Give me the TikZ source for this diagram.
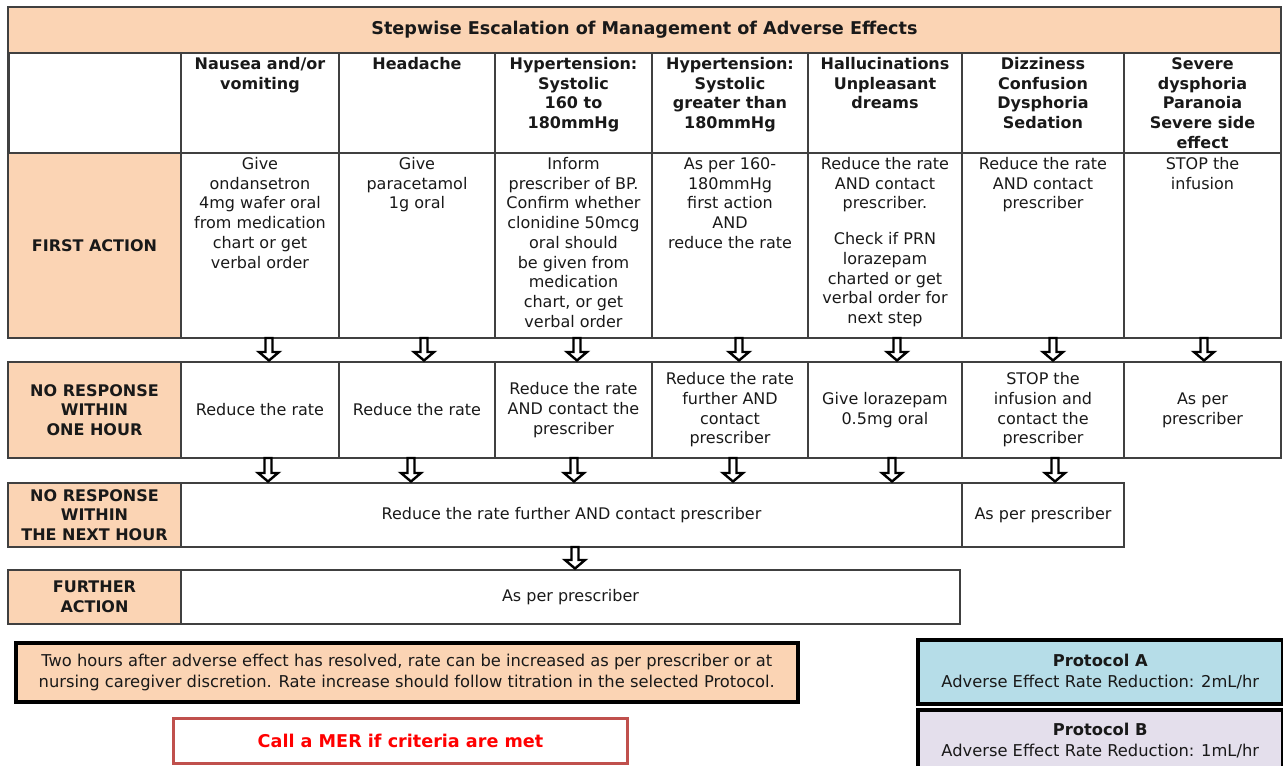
\documentclass[tikz,border=0pt]{standalone}
\usepackage{fontspec}
\setmainfont{DejaVu Sans}
\usepackage{tikz}
\usetikzlibrary{calc,positioning}
\definecolor{peach}{HTML}{FBD4B4}
\definecolor{protblue}{HTML}{B6DDE8}
\definecolor{protlilac}{HTML}{E4DFEC}
\definecolor{merred}{HTML}{C0504D}
\newcommand{\bodyfont}{\fontsize{16}{19.7}\selectfont}
\newcommand{\smallbody}{\fontsize{16.3}{21}\selectfont}
\newcommand{\bigbold}{\fontsize{17.6}{21}\selectfont\bfseries}
\newcommand{\topbox}[3]{\parbox[t][#2][t]{#1}{\centering\rule{0pt}{16.5pt}#3}}
\newcommand{\midbox}[3]{\parbox[c][#2][c]{#1}{\centering #3}}
\newcommand{\blockdown}[3]{%
\path ($(#1.south)+(#3,0)$) coordinate (bt) (bt |- #2.north) coordinate (bb);
\draw[blockarrow] ($(bt)+(-3.5,0)$) -- ($(bb)+(-3.5,-10)$) -- ($(bb)+(-10,-10)$)
  -- ($(bb)+(0,-1.5)$) -- ($(bb)+(10,-10)$) -- ($(bb)+(3.5,-10)$) -- ($(bt)+(3.5,0)$) -- cycle;}
\tikzstyle{cell} = [draw=black!75, line width=1.3pt, anchor=north west, inner sep=0pt, outer sep=0pt, font=\bodyfont, text=black!90]
\tikzstyle{rowhead} = [cell, fill=peach, font=\bodyfont\bfseries]
\tikzstyle{colhead} = [cell, font=\bodyfont\bfseries]
\tikzstyle{blockarrow} = [draw=black, line width=2.4pt, fill=white]
\tikzstyle{thickbox} = [draw=black, line width=3.5pt, anchor=north west, inner sep=0pt, font=\smallbody, text=black!90]

\begin{document}
\begin{tikzpicture}[x=1pt,y=-1pt]
\useasboundingbox (0,0) rectangle (1283,766);

\node[rowhead, font=\bigbold] (title) at (8,7) {\midbox{1273pt}{46pt}{Stepwise Escalation of Management of Adverse Effects}};

% symptoms
\node[colhead] (corner) at (8,53) {\midbox{173pt}{100pt}{}};
\node[colhead] (h1) at (181,53) {\topbox{158pt}{100pt}{Nausea and/or\\ vomiting}};
\node[colhead] (h2) at (339,53) {\topbox{156pt}{100pt}{Headache}};
\node[colhead] (h3) at (495,53) {\topbox{157pt}{100pt}{Hypertension:\\ Systolic\\ 160 to\\ 180mmHg}};
\node[colhead] (h4) at (652,53) {\topbox{156pt}{100pt}{Hypertension:\\ Systolic\\ greater than\\ 180mmHg}};
\node[colhead] (h5) at (808,53) {\topbox{154pt}{100pt}{Hallucinations\\ Unpleasant\\ dreams}};
\node[colhead] (h6) at (962,53) {\topbox{162pt}{100pt}{Dizziness\\ Confusion\\ Dysphoria\\ Sedation}};
\node[colhead] (h7) at (1124,53) {\topbox{157pt}{100pt}{Severe\\ dysphoria\\ Paranoia\\ Severe side\\ effect}};

% first action
\node[rowhead] (rfa) at (8,153) {\midbox{173pt}{185pt}{FIRST ACTION}};
\node[cell] (fa1) at (181,153) {\topbox{158pt}{185pt}{Give\\ ondansetron\\ 4mg wafer oral\\ from medication\\ chart or get\\ verbal order}};
\node[cell] (fa2) at (339,153) {\topbox{156pt}{185pt}{Give\\ paracetamol\\ 1g oral}};
\node[cell] (fa3) at (495,153) {\topbox{157pt}{185pt}{Inform\\ prescriber of BP.\\ Confirm whether\\ clonidine 50mcg\\ oral should\\ be given from\\ medication\\ chart, or get\\ verbal order}};
\node[cell] (fa4) at (652,153) {\topbox{156pt}{185pt}{As per 160-\\ 180mmHg\\ first action\\ AND\\ reduce the rate}};
\node[cell] (fa5) at (808,153) {\topbox{154pt}{185pt}{Reduce the rate\\ AND contact\\ prescriber.\\[16pt] Check if PRN\\ lorazepam\\ charted or get\\ verbal order for\\ next step}};
\node[cell] (fa6) at (962,153) {\topbox{162pt}{185pt}{Reduce the rate\\ AND contact\\ prescriber}};
\node[cell] (fa7) at (1124,153) {\topbox{157pt}{185pt}{STOP the\\ infusion}};

% no response within one hour
\node[rowhead] (rn1) at (8,362) {\midbox{173pt}{96pt}{NO RESPONSE\\ WITHIN\\ ONE HOUR}};
\node[cell] (n1) at (181,362) {\midbox{158pt}{96pt}{Reduce the rate}};
\node[cell] (n2) at (339,362) {\midbox{156pt}{96pt}{Reduce the rate}};
\node[cell] (n3) at (495,362) {\midbox{157pt}{96pt}{Reduce the rate\\ AND contact the\\ prescriber}};
\node[cell] (n4) at (652,362) {\midbox{156pt}{96pt}{Reduce the rate\\ further AND\\ contact\\ prescriber}};
\node[cell] (n5) at (808,362) {\midbox{154pt}{96pt}{Give lorazepam\\ 0.5mg oral}};
\node[cell] (n6) at (962,362) {\midbox{162pt}{96pt}{STOP the\\ infusion and\\ contact the\\ prescriber}};
\node[cell] (n7) at (1124,362) {\midbox{157pt}{96pt}{As per\\ prescriber}};

% no response within the next hour
\node[rowhead] (rn2) at (8,483) {\midbox{173pt}{64pt}{NO RESPONSE\\ WITHIN\\ THE NEXT HOUR}};
\node[cell] (m1) at (181,483) {\midbox{781pt}{64pt}{Reduce the rate further AND contact prescriber}};
\node[cell] (m2) at (962,483) {\midbox{162pt}{64pt}{As per prescriber}};

% further action
\node[rowhead] (rfur) at (8,570) {\midbox{173pt}{54pt}{FURTHER\\ ACTION}};
\node[cell] (fur) at (181,570) {\midbox{779pt}{54pt}{As per prescriber}};

\blockdown{fa1}{n1}{9}
\blockdown{fa2}{n2}{7}
\blockdown{fa3}{n3}{3.5}
\blockdown{fa4}{n4}{9}
\blockdown{fa5}{n5}{12}
\blockdown{fa6}{n6}{10}
\blockdown{fa7}{n7}{1.5}
\blockdown{n1}{m1}{8}
\blockdown{n2}{m1}{-6}
\blockdown{n3}{m1}{0.5}
\blockdown{n4}{m1}{3}
\blockdown{n5}{m1}{7}
\blockdown{n6}{m2}{12}
\blockdown{m1}{fur}{3.5}

% notes
\node[thickbox, fill=peach] (note) at (14,641) {\midbox{782pt}{59pt}{Two hours after adverse effect has resolved, rate can be increased as per prescriber or at\\ nursing caregiver discretion. Rate increase should follow titration in the selected Protocol.}};
\node[thickbox, draw=merred, line width=3pt, fill=white, font=\bigbold, text=red] (mer) at (172,717) {\midbox{454pt}{45pt}{Call a MER if criteria are met}};
\node[thickbox, fill=protblue] (pa) at (916,638) {\midbox{365pt}{64pt}{\textbf{Protocol A}\\ Adverse Effect Rate Reduction: 2mL/hr}};
\node[thickbox, fill=protlilac] (pb) at (916,708) {\midbox{365pt}{62pt}{\textbf{Protocol B}\\ Adverse Effect Rate Reduction: 1mL/hr}};

\end{tikzpicture}
\end{document}
